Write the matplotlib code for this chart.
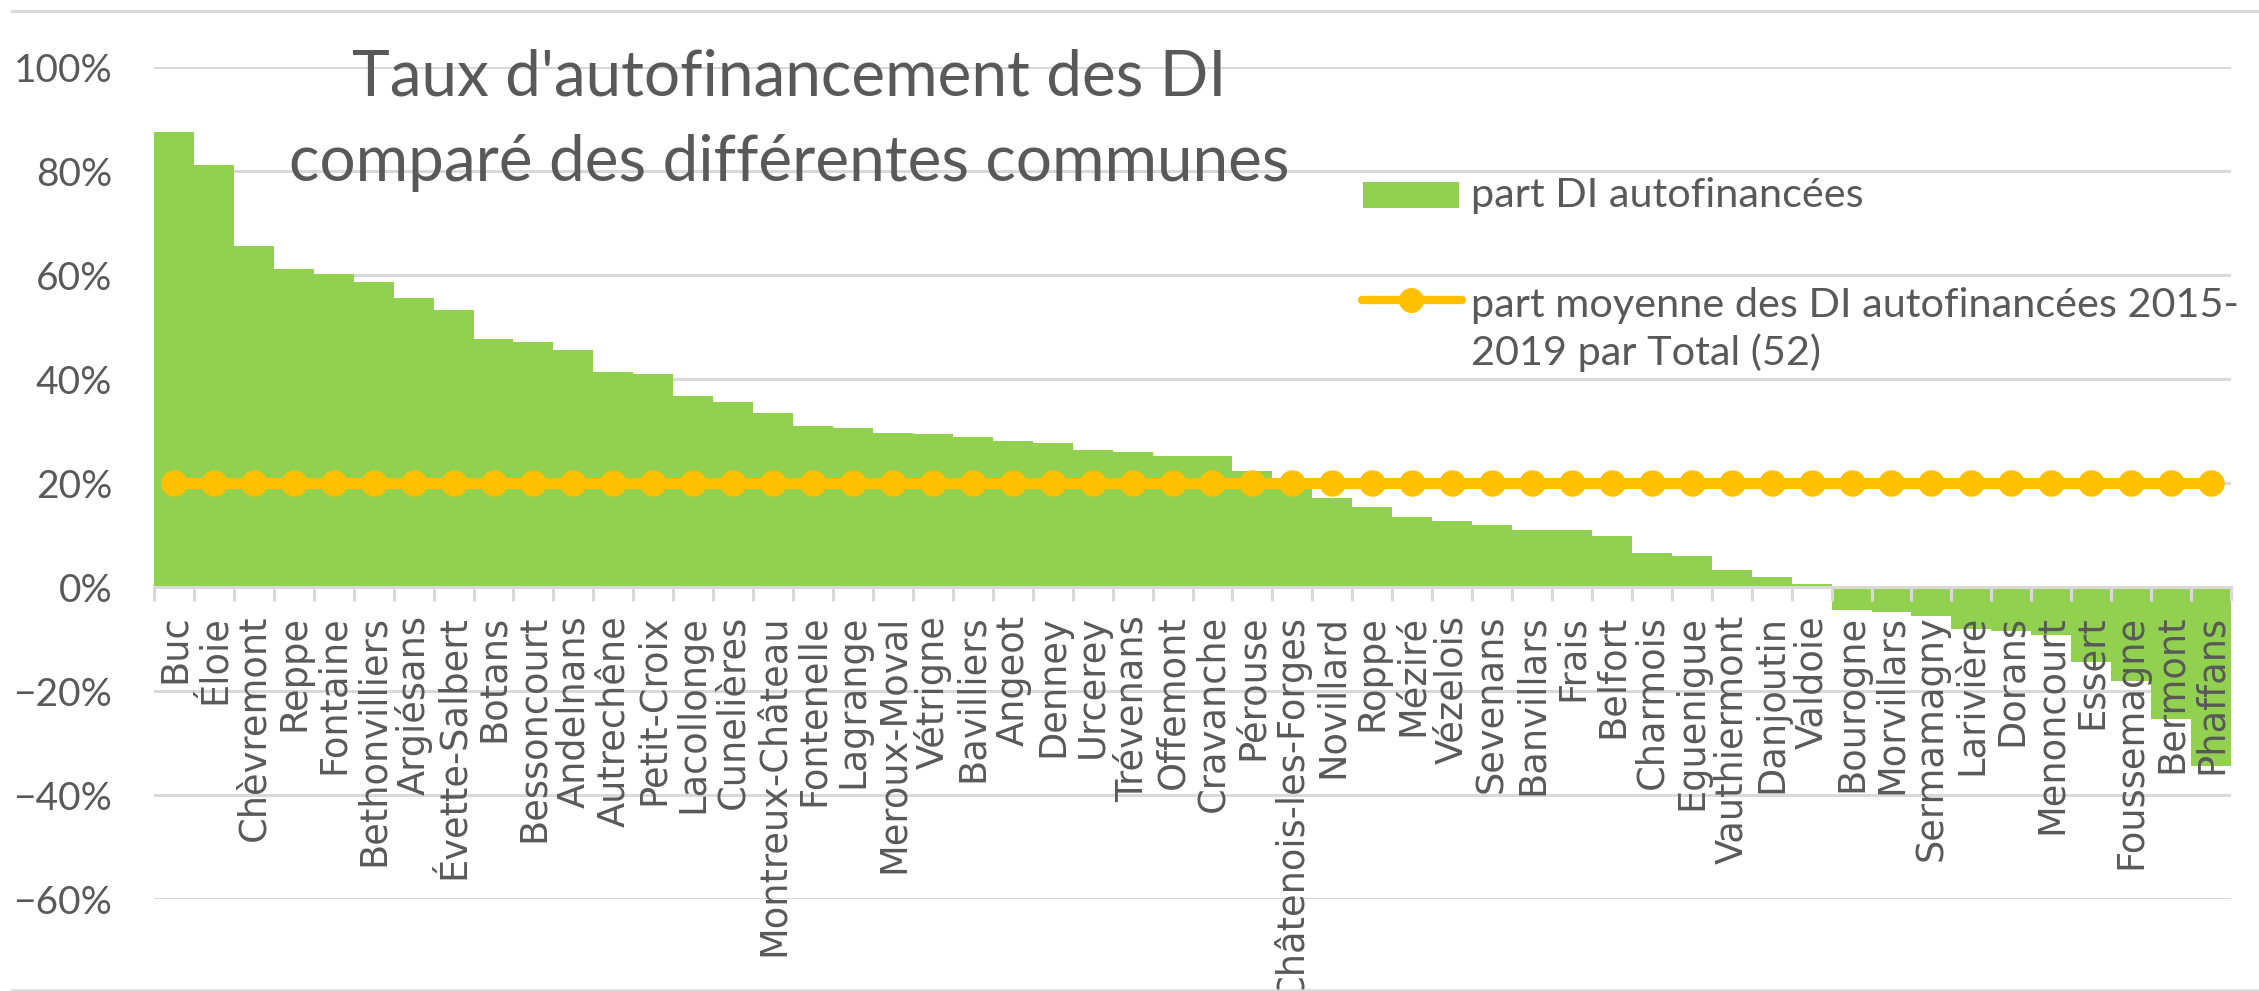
import matplotlib
matplotlib.use("Agg")
import matplotlib.pyplot as plt
from matplotlib.ticker import PercentFormatter, FixedLocator
from matplotlib.lines import Line2D
from matplotlib.patches import Rectangle

communes = ["Buc", "Éloie", "Chèvremont", "Reppe", "Fontaine", "Bethonvilliers",
            "Argiésans", "Évette-Salbert", "Botans", "Bessoncourt", "Andelnans",
            "Autrechêne", "Petit-Croix", "Lacollonge", "Cunelières", "Montreux-Château",
            "Fontenelle", "Lagrange", "Meroux-Moval", "Vétrigne", "Bavilliers", "Angeot",
            "Denney", "Urcerey", "Trévenans", "Offemont", "Cravanche", "Pérouse",
            "Châtenois-les-Forges", "Novillard", "Roppe", "Méziré", "Vézelois", "Sevenans",
            "Banvillars", "Frais", "Belfort", "Charmois", "Eguenigue", "Vauthiermont",
            "Danjoutin", "Valdoie", "Bourogne", "Morvillars", "Sermamagny", "Larivière",
            "Dorans", "Menoncourt", "Essert", "Foussemagne", "Bermont", "Phaffans"]

part_autofinancee = [87.5, 81.1, 65.6, 61.2, 60.2, 58.6, 55.5, 53.3, 47.6, 47.2, 45.5,
                     41.4, 40.9, 36.7, 35.6, 33.4, 30.9, 30.6, 29.6, 29.4, 28.9, 28.0,
                     27.7, 26.4, 26.0, 25.2, 25.2, 22.4, 19.2, 17.1, 15.4, 13.5, 12.6,
                     11.9, 11.0, 11.0, 9.8, 6.5, 5.9, 3.3, 2.0, 0.5, -4.5, -4.9, -5.5,
                     -8.1, -8.4, -9.2, -14.5, -18.0, -25.4, -34.4]

part_moyenne = [20.0] * 52

y_ticks = [-60, -40, -20, 0, 20, 40, 60, 80, 100]

title_lines = ["Taux d'autofinancement des DI", "comparé des différentes communes"]
legend_bar = "part DI autofinancées"
legend_line = ["part moyenne des DI autofinancées 2015-", "2019 par Total (52)"]

GREEN = "#92D050"
ORANGE = "#FFC000"
GRID = "#D9D9D9"
TEXT = "#595959"

W, H = 2259, 991
fig = plt.figure(figsize=(W / 100, H / 100), dpi=100)
fig.patch.set_facecolor("white")

ax = fig.add_axes([154 / W, 1 - 899 / H, 2077 / W, (899 - 67) / H])
x = list(range(len(communes)))

for v in y_ticks:
    if v != 0:
        ax.axhline(v, color=GRID, lw=2.2, zorder=0.5)

ax.bar(x, part_autofinancee, width=1.0, color=GREEN, edgecolor="none", zorder=1)
ax.plot(x, part_moyenne, color=ORANGE, lw=8, marker="o", markersize=18,
        markerfacecolor=ORANGE, markeredgecolor=ORANGE, solid_capstyle="round", zorder=4)

ax.set_xlim(-0.5, len(communes) - 0.5)
ax.set_ylim(-60, 100)
ax.set_axisbelow(False)

for s in ["left", "right", "top"]:
    ax.spines[s].set_visible(False)
ax.spines["bottom"].set_position(("data", 0))
ax.spines["bottom"].set_color(GRID)
ax.spines["bottom"].set_linewidth(2.2)
ax.spines["bottom"].set_zorder(2.6)

ax.yaxis.set_major_locator(FixedLocator(y_ticks))
ax.yaxis.set_major_formatter(PercentFormatter(100, decimals=0))
ax.tick_params(axis="y", length=0, pad=30, labelsize=28, labelcolor=TEXT)
for lab in ax.get_yticklabels():
    lab.set_fontfamily(["Lato", "DejaVu Sans"])

ax.set_xticks(x)
ax.set_xticklabels(communes, rotation=90, fontsize=26.5, color=TEXT,
                   fontfamily="DejaVu Sans")
ax.tick_params(axis="x", which="major", length=0, pad=20)
ax.set_xticks([i - 0.5 for i in range(len(communes) + 1)], minor=True)
ax.tick_params(axis="x", which="minor", length=10, width=2.2, color=GRID, direction="out")

# overlay in pixel coordinates for title, legend and frame
ov = fig.add_axes([0, 0, 1, 1], zorder=10)
ov.set_xlim(0, W)
ov.set_ylim(H, 0)
ov.axis("off")
ov.patch.set_alpha(0)

ov.plot([12, W], [11, 11], color=GRID, lw=2.2)
ov.plot([12, W], [990, 990], color=GRID, lw=1.2)

ov.text(789, 96, title_lines[0], ha="center", va="baseline", fontsize=46,
        color=TEXT, fontfamily="Lato")
ov.text(789, 181, title_lines[1], ha="center", va="baseline", fontsize=46,
        color=TEXT, fontfamily="Lato")

ov.add_patch(Rectangle((1363, 182), 96, 26, facecolor=GREEN, edgecolor="none"))
ov.text(1471, 206.5, legend_bar, ha="left", va="baseline", fontsize=29.8,
        color=TEXT, fontfamily="Lato")
ov.add_line(Line2D([1362, 1462], [300, 300], color=ORANGE, lw=6, solid_capstyle="round"))
ov.plot([1411], [300], marker="o", markersize=17, color=ORANGE)
ov.text(1471, 316.5, legend_line[0], ha="left", va="baseline", fontsize=29.8,
        color=TEXT, fontfamily="Lato")
ov.text(1471, 365, legend_line[1], ha="left", va="baseline", fontsize=29.8,
        color=TEXT, fontfamily="Lato")

fig.savefig("out.png", dpi=100)
